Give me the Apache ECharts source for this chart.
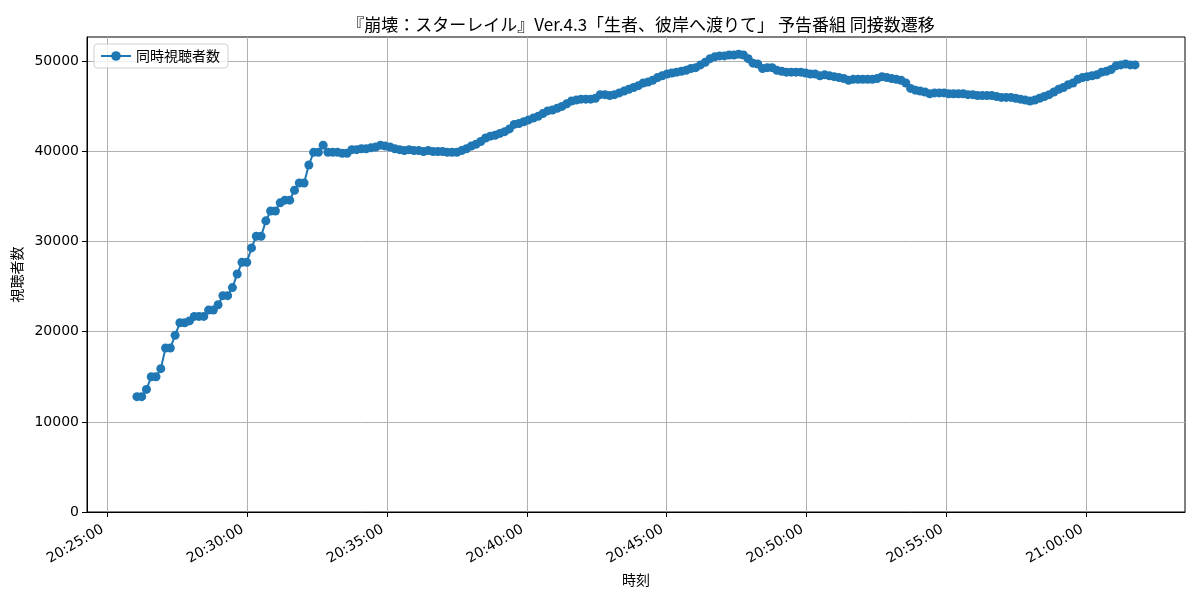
<!DOCTYPE html>
<html>
<head>
<meta charset="utf-8">
<title>同接数遷移</title>
<script src="https://cdn.jsdelivr.net/npm/echarts@6/dist/echarts.min.js"></script>
<style>
  html, body { margin: 0; padding: 0; background: #fff; }
  #chart { width: 1200px; height: 600px; }
</style>
</head>
<body>
<div id="chart"></div>
<script>
// 同時視聴者数 (約10秒ごとのサンプル)
const sampleStart = 20 * 3600 + 26 * 60 + 4; // 20:26:04 (秒)
const sampleStep = 10.24; // 秒
const viewers = [
  12800, 12800, 13600, 15000, 15000, 15900, 18200, 18200, 19600, 21000,
  21000, 21200, 21700, 21700, 21700, 22400, 22400, 23000, 24000, 24000,
  24900, 26400, 27700, 27700, 29300, 30600, 30600, 32300, 33400, 33400,
  34300, 34600, 34600, 35700, 36500, 36500, 38500, 39900, 39900, 40700,
  39900, 39900, 39900, 39800, 39800, 40200, 40200, 40300, 40300, 40400,
  40500, 40700, 40600, 40500, 40300, 40200, 40100, 40200, 40100, 40100,
  40000, 40100, 40000, 40000, 40000, 39900, 39900, 39900, 40100, 40300,
  40600, 40800, 41100, 41500, 41700, 41800, 42000, 42200, 42500, 43000,
  43100, 43300, 43500, 43700, 43900, 44200, 44500, 44600, 44800, 45000,
  45300, 45600, 45700, 45800, 45800, 45800, 45900, 46300, 46300, 46200,
  46300, 46500, 46700, 46900, 47100, 47300, 47600, 47700, 47900, 48200,
  48400, 48600, 48700, 48800, 48900, 49000, 49200, 49300, 49600, 49900,
  50300, 50500, 50600, 50600, 50700, 50700, 50800, 50700, 50300, 49800,
  49700, 49200, 49300, 49300, 49000, 48900, 48800, 48800, 48800, 48800,
  48700, 48600, 48600, 48400, 48500, 48400, 48300, 48200, 48100, 47900,
  48000, 48000, 48000, 48000, 48000, 48100, 48300, 48200, 48100, 48000,
  47900, 47600, 47000, 46800, 46700, 46600, 46400, 46500, 46500, 46500,
  46400, 46400, 46400, 46400, 46300, 46300, 46200, 46200, 46200, 46200,
  46100, 46000, 46000, 46000, 45900, 45800, 45700, 45600, 45700, 45900,
  46100, 46300, 46600, 46900, 47100, 47400, 47600, 48000, 48200, 48300,
  48400, 48500, 48800, 48900, 49100, 49500, 49600, 49700, 49600, 49600
];
// 目盛り
const xTicks = [73500, 73800, 74100, 74400, 74700, 75000, 75300, 75600]; // 20:25:00 〜 21:00:00
const yTicks = [0, 10000, 20000, 30000, 40000, 50000];

const seriesData = viewers.map((v, i) => [sampleStart + i * sampleStep, v]);

// matplotlib 風の 5% マージン
const tFirst = seriesData[0][0];
const tLast = seriesData[seriesData.length - 1][0];
const tPad = (tLast - tFirst) * 0.05;
const vMax = Math.max(...viewers);
const vMin = Math.min(...viewers);
const yTop = vMax + (vMax - vMin) * 0.05;

function pad2(n) { return String(n).padStart(2, '0'); }
function fmtTime(sec) {
  const s = Math.round(sec);
  return pad2(Math.floor(s / 3600)) + ':' + pad2(Math.floor(s % 3600 / 60)) + ':' + pad2(s % 60);
}

const font = 'DejaVu Sans, "Noto Sans CJK JP", sans-serif';
const cjk = '"Noto Sans CJK JP", "DejaVu Sans", sans-serif';

const chart = echarts.init(document.getElementById('chart'), null, { renderer: 'canvas' });
chart.setOption({
  animation: false,
  backgroundColor: '#fff',
  title: {
    text: '『崩壊：スターレイル』Ver.4.3「生者、彼岸へ渡りて」 予告番組 同接数遷移',
    left: 636,
    textAlign: 'center',
    top: 11,
    textStyle: { fontFamily: cjk, fontSize: 17, fontWeight: 'normal', color: '#000' }
  },
  legend: {
    left: 94,
    top: 44,
    padding: [5, 8, 5, 6],
    itemWidth: 30,
    itemHeight: 12,
    borderColor: '#d0d0d0',
    borderWidth: 1,
    borderRadius: 3,
    backgroundColor: 'rgba(255,255,255,0.8)',
    textStyle: { fontFamily: cjk, fontSize: 14, color: '#000' },
    data: ['同時視聴者数']
  },
  grid: {
    left: 87, right: 15, top: 37, bottom: 88,
    containLabel: false,
    outerBoundsMode: 'none',
    show: true,
    borderColor: '#000',
    borderWidth: 1,
    backgroundColor: 'transparent'
  },
  xAxis: {
    type: 'value',
    min: tFirst - tPad,
    max: tLast + tPad,
    name: '時刻',
    nameLocation: 'middle',
    nameGap: 54,
    nameTextStyle: { fontFamily: cjk, fontSize: 14, color: '#000' },
    axisLine: { show: true, lineStyle: { color: '#000', width: 1 } },
    axisTick: { show: true, length: 5, lineStyle: { color: '#000' }, customValues: xTicks },
    axisLabel: {
      customValues: xTicks,
      rotate: 30,
      margin: 14,
      padding: [0, 5, 0, 0],
      fontFamily: font,
      fontSize: 14,
      color: '#000',
      formatter: fmtTime
    },
    splitLine: { show: true, lineStyle: { color: '#b0b0b0', width: 1 } }
  },
  yAxis: {
    type: 'value',
    min: 0,
    max: yTop,
    name: '視聴者数',
    nameLocation: 'middle',
    nameGap: 54,
    nameTextStyle: { fontFamily: cjk, fontSize: 14, color: '#000' },
    axisLine: { show: true, lineStyle: { color: '#000', width: 1 } },
    axisTick: { show: true, length: 5, lineStyle: { color: '#000' }, customValues: yTicks },
    axisLabel: {
      customValues: yTicks,
      margin: 8,
      fontFamily: font,
      fontSize: 14,
      color: '#000',
      formatter: (v) => String(v)
    },
    splitLine: { show: true, lineStyle: { color: '#b0b0b0', width: 1 } }
  },
  series: [
    {
      name: '同時視聴者数',
      type: 'line',
      data: seriesData,
      symbol: 'circle',
      symbolSize: 9,
      showSymbol: true,
      color: '#1f77b4',
      lineStyle: { color: '#1f77b4', width: 2 },
      itemStyle: { color: '#1f77b4' }
    }
  ]
});
</script>
</body>
</html>
